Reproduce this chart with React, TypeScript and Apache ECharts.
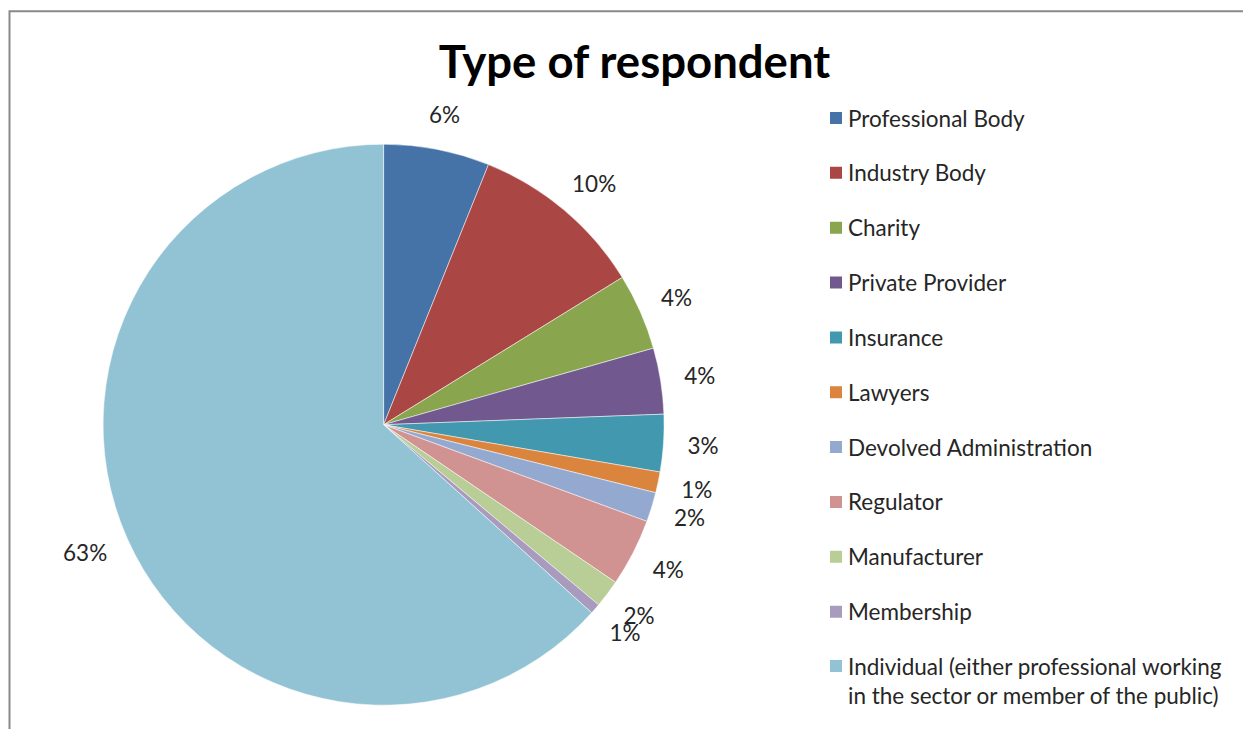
import React, { useEffect, useRef } from "react";
import * as echarts from "echarts";

const TITLE = "Type of respondent";
const categories = [
  "Professional Body",
  "Industry Body",
  "Charity",
  "Private Provider",
  "Insurance",
  "Lawyers",
  "Devolved Administration",
  "Regulator",
  "Manufacturer",
  "Membership",
  "Individual (either professional working in the sector or member of the public)",
];
const shares = [6.1, 10.1, 4.4, 3.8, 3.3, 1.2, 1.7, 3.9, 1.6, 0.6, 63.3];
const colors = [
  "#4572A7",
  "#AA4643",
  "#89A54E",
  "#71588F",
  "#4198AF",
  "#DB843D",
  "#93A9CF",
  "#D19392",
  "#B9CD96",
  "#A99BBD",
  "#92C3D4",
];
const lastLegendLines = [
  "Individual (either professional working",
  "in the sector or member of the public)",
];

const FONT = "Lato";
const TEXT_COLOR = "#262626";
const FONT_SIZE = 22.5;

export default function App() {
  const ref = useRef<HTMLDivElement>(null);
  useEffect(() => {
    if (!ref.current) return;
    const chart = echarts.init(ref.current, undefined, { renderer: "svg" });
    const data = categories.map((name, i) => ({
      name,
      value: shares[i],
      itemStyle: { color: colors[i] },
    }));
    const n = categories.length;
    chart.setOption({
      animation: false,
      backgroundColor: "#ffffff",
      title: {
        text: TITLE,
        left: 626.5,
        top: 29,
        padding: 0,
        textAlign: "center",
        textStyle: {
          fontFamily: FONT,
          fontWeight: "bold",
          fontSize: 45.5,
          color: "#000000",
        },
      },
      graphic: [
        {
          type: "rect",
          shape: { x: 1.5, y: 3.2, width: 3000, height: 3000 },
          style: { fill: "none", stroke: "#898989", lineWidth: 2 },
          silent: true,
          z: -1,
        },
      ],
      legend: [
        {
          orient: "vertical",
          left: 820,
          top: 95.5,
          padding: 0,
          itemWidth: 14,
          itemHeight: 14,
          itemGap: 25.85,
          icon: "rect",
          selectedMode: false,
          data: categories.slice(0, n - 1),
          textStyle: {
            fontFamily: FONT,
            fontSize: FONT_SIZE,
            lineHeight: 29,
            color: TEXT_COLOR,
          },
        },
        {
          orient: "vertical",
          left: 820,
          top: 614.5,
          padding: 0,
          itemWidth: 14,
          itemHeight: 14,
          icon: "rect",
          selectedMode: false,
          data: [categories[n - 1]],
          formatter: () => " \n" + lastLegendLines.join("\n"),
          textStyle: {
            fontFamily: FONT,
            fontSize: FONT_SIZE,
            lineHeight: 29,
            color: TEXT_COLOR,
          },
        },
      ],
      series: [
        {
          type: "pie",
          center: [375.6, 416.7],
          radius: 280.5,
          startAngle: 90,
          clockwise: true,
          avoidLabelOverlap: false,
          data,
          itemStyle: { borderColor: "#ffffff", borderWidth: 0.5 },
          emphasis: { disabled: true },
          label: {
            show: true,
            position: "outside",
            formatter: (p: any) => Math.round(p.value) + "%",
            fontFamily: FONT,
            fontSize: FONT_SIZE,
            color: TEXT_COLOR,
          },
          labelLine: {
            show: true,
            length: 24,
            length2: 0,
            lineStyle: { opacity: 0, width: 0 },
          },
          labelLayout: (params: any) => {
            const pts = params.labelLinePoints;
            if (!pts || pts.length < 2) return {};
            const p0 = pts[0];
            const p1 = pts[1];
            const vx = p1[0] - p0[0];
            const vy = p1[1] - p0[1];
            const len = Math.hypot(vx, vy) || 1;
            const dx = vx / len;
            const dy = vy / len;
            const w = params.labelRect.width;
            const h = params.labelRect.height;
            return {
              x: p1[0] + (dx * w) / 2,
              y: p1[1] + (dy * h) / 2,
              align: "center",
              verticalAlign: "middle",
            };
          },
        },
      ],
    });
    return () => chart.dispose();
  }, []);
  return <div ref={ref} style={{ width: 1243, height: 721 }} />;
}
